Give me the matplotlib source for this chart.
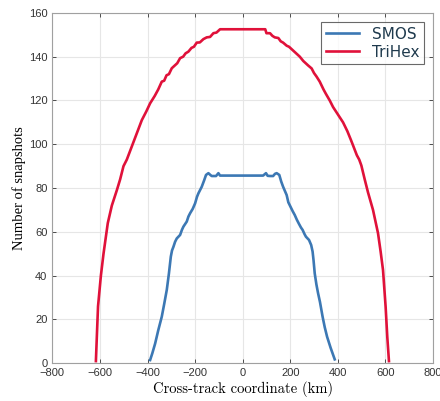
import numpy as np
import matplotlib.pyplot as plt

# SMOS snapshot count vs cross-track coordinate (km)
smos_x = [-389, -380, -368, -355, -340, -330, -319, -310, -302, -297, -291, -284, -277, -263,
          -255, -249, -235, -228, -221, -210, -200, -192, -186, -172, -162, -154, -144, -136,
          -130, -112, -102, -95, 86, 98, 105, 115, 128, 136, 143, 154, 162, 170, 185, 192,
          201, 210, 219, 228, 237, 245, 252, 260, 266, 279, 288, 294, 298, 303, 310, 317,
          325, 336, 345, 355, 370, 387]
smos_y = [1.5, 4.5, 9, 15, 21.3, 27, 33.5, 41, 48.7, 51.5, 53.2, 55.5, 57, 58.6,
          61, 62.4, 64.7, 67, 68.5, 70.5, 73, 76, 77.6, 80.6, 83.5, 86, 86.8, 86,
          85.5, 85.5, 86.8, 85.7, 85.7, 86.8, 85.6, 85.5, 85.5, 86.5, 86.8, 86, 83, 80.6, 76.8, 73.5,
          71.5, 69.5, 67.7, 65.5, 63.6, 62, 60.9, 59, 57.8, 56.3, 54, 51, 47, 41, 36, 32,
          28, 21.3, 16.5, 12.1, 7, 1.8]

# TriHex snapshot count vs cross-track coordinate (km)
trihex_x = [-617, -612, -608, -602, -596, -585, -567, -550, -529, -515, -501, -487, -473, -452,
            -438, -424, -405, -389, -370, -355, -340, -330, -320, -310, -298, -285, -275, -263,
            -250, -240, -228, -215, -205, -193, -180, -165, -151, -137, -123, -110, -95,
            95, 100, 115, 125, 135, 150, 160, 170, 185, 195, 206, 220, 230, 240, 255, 265,
            275, 290, 300, 310, 324, 340, 350, 366, 380, 395, 410, 422, 440, 455, 464, 480,
            490, 499, 513, 527, 548, 569, 580, 590, 601, 608, 615]
trihex_y = [1, 15, 26, 33, 40, 50, 64, 72, 79, 84, 90, 93, 97, 103,
            107, 111, 115, 118.7, 122, 125, 128.6, 129, 131.5, 132, 134.7, 136, 137, 139.3,
            140, 141.5, 142.3, 144, 144.5, 146.4, 146.5, 148, 148.8, 149, 150.7, 151, 152.5,
            152.5, 150.7, 150.7, 149.5, 148.8, 148.5, 147, 146.4, 145, 144.5, 143.4, 142, 141, 140, 138, 137,
            136, 134.6, 132.5, 131, 128.6, 125, 123, 120, 117, 114.5, 112, 110, 106, 102, 99.5, 95,
            93, 90.3, 84, 78, 70, 59.4, 51, 42.6, 25.8, 12, 1]

fig = plt.figure(figsize=(4.4, 4.01), dpi=100)
ax = fig.add_axes([0.119, 0.094, 0.865, 0.874])

ax.plot(smos_x, smos_y, color='#3c78b4', lw=1.9, label='SMOS')
ax.plot(trihex_x, trihex_y, color='#e0113a', lw=1.9, label='TriHex')

ax.set_xlim(-800, 800)
ax.set_ylim(0, 160)
ax.set_xticks(np.arange(-800, 801, 200))
ax.set_yticks(np.arange(0, 161, 20))
ax.grid(True, color='#e6e6e6', lw=0.8)
ax.set_axisbelow(True)
ax.tick_params(direction='in', top=True, right=True, labelsize=8, colors='#333333',
               length=3, width=0.6)
for lbl in ax.get_xticklabels() + ax.get_yticklabels():
    lbl.set_fontfamily('Liberation Sans')
for sp in ax.spines.values():
    sp.set_color('#a0a0a0')
    sp.set_linewidth(0.8)

ax.set_xlabel('Cross-track coordinate (km)', fontfamily='cmr10', fontsize=10.5, labelpad=2)
ax.set_ylabel('Number of snapshots', fontfamily='Liberation Serif', fontsize=10.5, labelpad=2)

leg = ax.legend(loc='upper right', fontsize=11, frameon=True, fancybox=False,
                edgecolor='#444444', handlelength=2.2, borderpad=0.3, labelspacing=0.2,
                borderaxespad=0.6)
for t in leg.get_texts():
    t.set_color('#1f3a4d')
leg.get_frame().set_linewidth(0.8)

fig.savefig('out.png', dpi=100)
